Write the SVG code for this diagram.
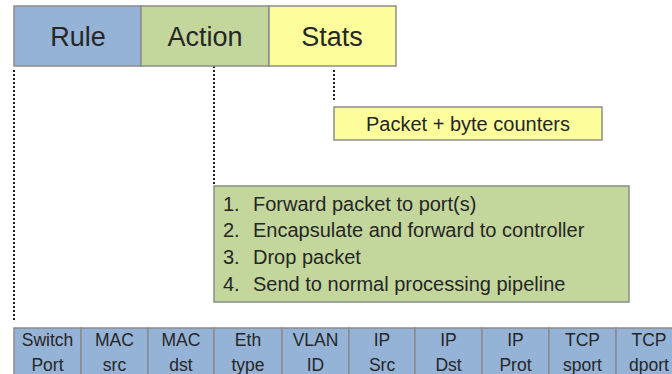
<svg xmlns="http://www.w3.org/2000/svg" width="672" height="374" viewBox="0 0 672 374">
<style>
text{font-family:"Liberation Sans",Arial,sans-serif;fill:#262626}
.hdr{font-size:27px;text-anchor:middle}
.lst{font-size:20px}
.cell{font-size:17.5px;text-anchor:middle}
.box{stroke:#8c8c8c;stroke-width:1.5}
.blue{fill:#95b3d7}.green{fill:#c3d69b}.yellow{fill:#fdfd9c}
.dot{stroke:#222;stroke-width:2;stroke-dasharray:2 2;fill:none}
</style>
<rect width="672" height="374" fill="#fff"/>
<g id="connectors">
<line class="dot" x1="14" y1="70" x2="14" y2="320"/>
<line class="dot" x1="214" y1="66" x2="214" y2="184"/>
<line class="dot" x1="334" y1="70" x2="334" y2="101"/>
</g>
<g id="rule"><rect class="box blue" x="14" y="6" width="127" height="60"/><text class="hdr" x="78" y="46">Rule</text></g>
<g id="action"><rect class="box green" x="141" y="6" width="128" height="60"/><text class="hdr" x="205" y="46">Action</text></g>
<g id="stats"><rect class="box yellow" x="269" y="6" width="127" height="60"/><text class="hdr" x="332" y="46">Stats</text></g>
<g id="counters"><rect class="box yellow" x="334" y="107" width="268" height="33"/><text class="lst" x="468" y="131" text-anchor="middle">Packet + byte counters</text></g>
<g id="actions-list"><rect class="box green" x="214" y="186" width="415" height="116"/>
<text class="lst" x="223" y="211">1.</text><text class="lst" x="253" y="211">Forward packet to port(s)</text>
<text class="lst" x="223" y="237">2.</text><text class="lst" x="253" y="237">Encapsulate and forward to controller</text>
<text class="lst" x="223" y="264">3.</text><text class="lst" x="253" y="264">Drop packet</text>
<text class="lst" x="223" y="291">4.</text><text class="lst" x="253" y="291">Send to normal processing pipeline</text>
</g>
<g id="header-fields">
<rect class="box blue" x="14" y="328" width="67" height="50"/>
<rect class="box blue" x="81" y="328" width="67" height="50"/>
<rect class="box blue" x="148" y="328" width="66" height="50"/>
<rect class="box blue" x="214" y="328" width="68" height="50"/>
<rect class="box blue" x="282" y="328" width="67" height="50"/>
<rect class="box blue" x="349" y="328" width="66" height="50"/>
<rect class="box blue" x="415" y="328" width="67" height="50"/>
<rect class="box blue" x="482" y="328" width="67" height="50"/>
<rect class="box blue" x="549" y="328" width="67" height="50"/>
<rect class="box blue" x="616" y="328" width="68" height="50"/>
<text class="cell" x="47.5" y="346">Switch</text><text class="cell" x="47.5" y="371">Port</text>
<text class="cell" x="114.5" y="346">MAC</text><text class="cell" x="114.5" y="371">src</text>
<text class="cell" x="181" y="346">MAC</text><text class="cell" x="181" y="371">dst</text>
<text class="cell" x="248" y="346">Eth</text><text class="cell" x="248" y="371">type</text>
<text class="cell" x="315.5" y="346">VLAN</text><text class="cell" x="315.5" y="371">ID</text>
<text class="cell" x="382" y="346">IP</text><text class="cell" x="382" y="371">Src</text>
<text class="cell" x="448.5" y="346">IP</text><text class="cell" x="448.5" y="371">Dst</text>
<text class="cell" x="515.5" y="346">IP</text><text class="cell" x="515.5" y="371">Prot</text>
<text class="cell" x="582.5" y="346">TCP</text><text class="cell" x="582.5" y="371">sport</text>
<text class="cell" x="649" y="346">TCP</text><text class="cell" x="649" y="371">dport</text>
</g>
</svg>
